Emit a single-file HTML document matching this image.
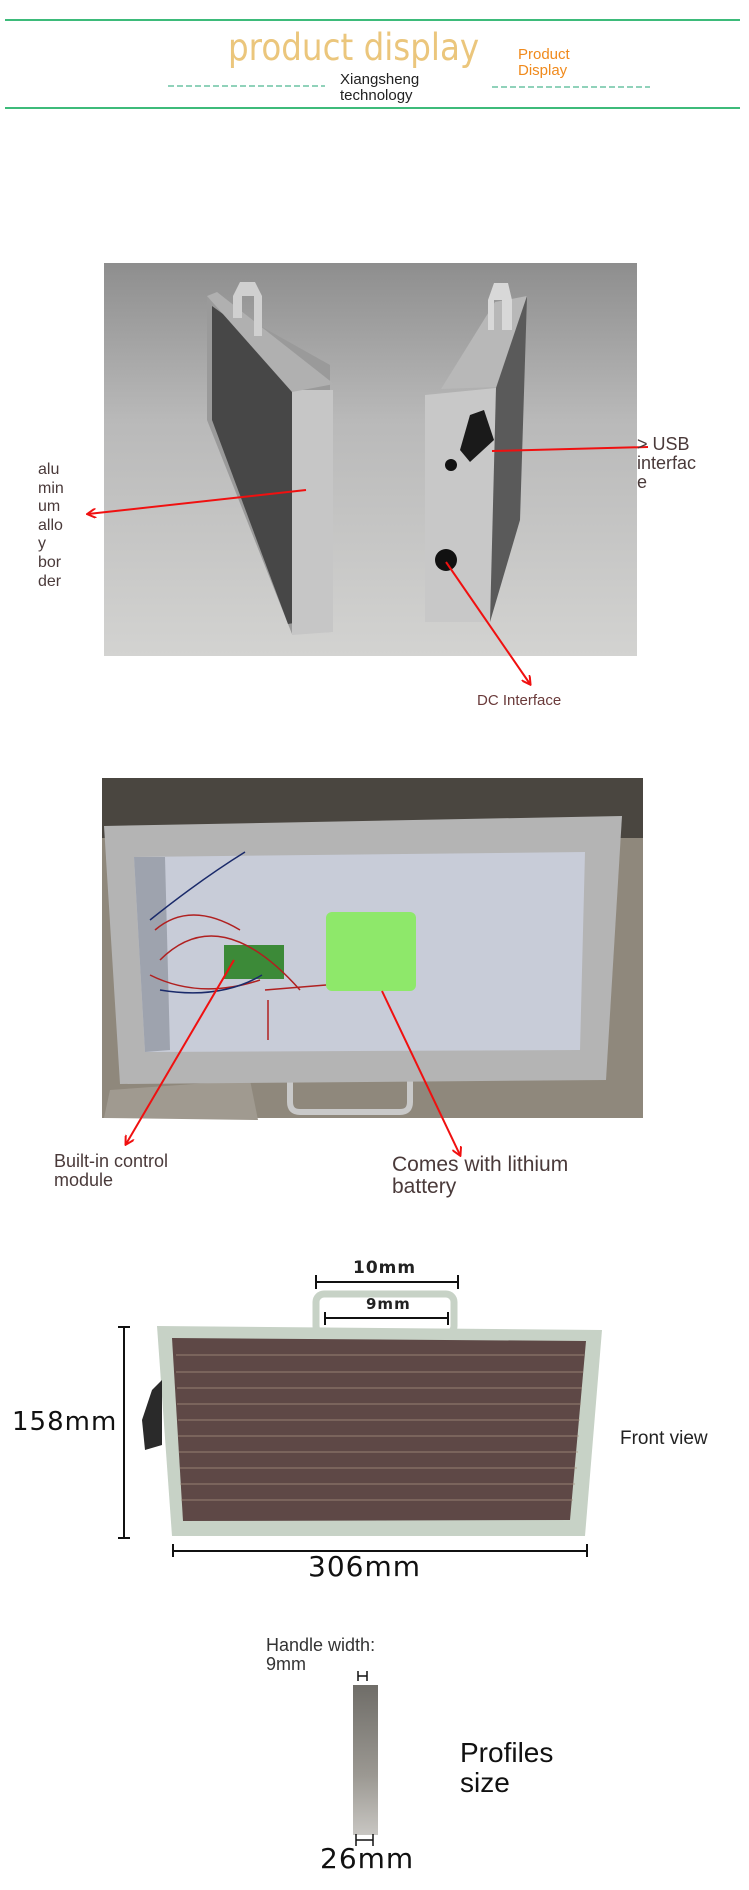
<!DOCTYPE html>
<html><head><meta charset="utf-8"><style>
html,body{margin:0;padding:0;background:#fff;}
body{width:749px;height:1890px;position:relative;overflow:hidden;font-family:"Liberation Sans",sans-serif;}
.t{position:absolute;white-space:nowrap;}
</style></head><body>
<svg width="749" height="1890" style="position:absolute;left:0;top:0" xmlns="http://www.w3.org/2000/svg">
<defs>
<linearGradient id="bg1" x1="0" y1="0" x2="0" y2="1"><stop offset="0" stop-color="#8e8e8e"/><stop offset="0.4" stop-color="#b9b9b9"/><stop offset="1" stop-color="#d3d3d1"/></linearGradient>
<linearGradient id="bar" x1="0" y1="0" x2="0" y2="1"><stop offset="0" stop-color="#6f6d68"/><stop offset="0.6" stop-color="#9b9892"/><stop offset="1" stop-color="#c8c6c2"/></linearGradient>
<marker id="ah" markerWidth="10" markerHeight="10" refX="8" refY="5" orient="auto" markerUnits="userSpaceOnUse"><path d="M0,0 L9,5 L0,10" fill="none" stroke="#f01010" stroke-width="2"/></marker>
</defs>
<line x1="5" y1="20" x2="740" y2="20" stroke="#3dbb7a" stroke-width="2"/>
<line x1="5" y1="108" x2="740" y2="108" stroke="#3dbb7a" stroke-width="2"/>
<line x1="168" y1="86" x2="325" y2="86" stroke="#6cc4a4" stroke-width="1.5" stroke-dasharray="6,3"/>
<line x1="492" y1="87" x2="650" y2="87" stroke="#6cc4a4" stroke-width="1.5" stroke-dasharray="6,3"/>

<rect x="104" y="263" width="533" height="393" fill="url(#bg1)"/>
<path d="M207,296 L330,365 L330,632 L292,634 L207,420 Z" fill="#9a9a9a"/>
<path d="M212,306 L300,370 L300,622 L288,624 L212,420 Z" fill="#474747"/>
<path d="M292,390 L333,390 L333,632 L292,635 Z" fill="#c6c6c6"/>
<path d="M207,296 L217,292 L334,384 L292,392 Z" fill="#b0b0b0"/>
<path d="M233,296 L240,282 L255,282 L262,296 L262,336 L254,336 L254,296 L242,296 L242,318 L233,318 Z" fill="#d0d0d0"/>
<path d="M441,389 L496,387 L527,296 L495,302 Z" fill="#b8b8b8"/>
<path d="M425,395 L496,388 L490,622 L425,622 Z" fill="#c8c8c8"/>
<path d="M496,388 L527,296 L520,520 L490,622 Z" fill="#5a5a5a"/>
<path d="M488,300 L494,283 L508,283 L512,300 L512,330 L502,330 L502,300 L494,300 L494,330 L488,330 Z" fill="#d8d8d8"/>
<path d="M470,415 L484,410 L494,440 L470,462 L460,450 Z" fill="#1a1a1a"/>
<circle cx="451" cy="465" r="6" fill="#111"/>
<circle cx="446" cy="560" r="11" fill="#111"/>
<line x1="306" y1="490" x2="88" y2="514" stroke="#f01010" stroke-width="2" marker-end="url(#ah)"/>
<line x1="492" y1="451" x2="648" y2="447" stroke="#f01010" stroke-width="2"/>
<line x1="446" y1="562" x2="530" y2="684" stroke="#f01010" stroke-width="2" marker-end="url(#ah)"/>

<rect x="102" y="778" width="541" height="340" fill="#8f887c"/>
<rect x="102" y="778" width="541" height="60" fill="#4a4640"/>
<path d="M110,1090 L250,1080 L258,1120 L104,1118 Z" fill="#a09a90"/>
<path d="M290,1080 L290,1102 Q290,1112 300,1112 L400,1112 Q410,1112 410,1102 L410,1080" fill="none" stroke="#c9c9c9" stroke-width="6"/>
<path d="M104,826 L622,816 L606,1080 L120,1084 Z" fill="#b4b4b4"/>
<path d="M134,857 L585,852 L580,1050 L145,1052 Z" fill="#c8ccd8"/>
<path d="M134,857 L165,857 L170,1050 L145,1052 Z" fill="#9ea3ae"/>
<rect x="224" y="945" width="60" height="34" fill="#3c8a38"/>
<rect x="326" y="912" width="90" height="79" rx="6" fill="#8ee86a"/>
<path d="M155,930 Q190,900 240,930 M150,975 Q200,1000 260,980 M160,960 Q220,900 300,990 M265,990 L326,985 M268,1000 L268,1040" fill="none" stroke="#b02020" stroke-width="1.5"/>
<path d="M150,920 Q200,880 245,852 M160,990 Q220,1000 262,975" fill="none" stroke="#1a2a6a" stroke-width="1.5"/>
<line x1="234" y1="960" x2="126" y2="1144" stroke="#f01010" stroke-width="2" marker-end="url(#ah)"/>
<line x1="382" y1="991" x2="460" y2="1155" stroke="#f01010" stroke-width="2" marker-end="url(#ah)"/>

<rect x="316" y="1294" width="138" height="40" rx="8" fill="none" stroke="#c7d2c6" stroke-width="7"/>
<path d="M157,1326 L602,1330 L585,1536 L172,1536 Z" fill="#c7d2c6"/>
<path d="M172,1338 L586,1341 L570,1520 L183,1521 Z" fill="#5e4846"/>
<g stroke="#a89480" stroke-width="0.8">
<line x1="176" y1="1355" x2="584" y2="1355"/><line x1="176" y1="1372" x2="583" y2="1372"/><line x1="177" y1="1388" x2="582" y2="1388"/><line x1="177" y1="1404" x2="581" y2="1404"/><line x1="178" y1="1420" x2="580" y2="1420"/><line x1="178" y1="1436" x2="579" y2="1436"/><line x1="179" y1="1452" x2="578" y2="1452"/><line x1="180" y1="1468" x2="577" y2="1468"/><line x1="180" y1="1484" x2="575" y2="1484"/><line x1="181" y1="1500" x2="573" y2="1500"/>
</g>
<path d="M152,1390 L162,1380 L162,1445 L145,1450 L142,1420 Z" fill="#2a2a2a"/>
<g stroke="#111" stroke-width="2">
<line x1="316" y1="1282" x2="458" y2="1282"/><line x1="316" y1="1275" x2="316" y2="1289"/><line x1="458" y1="1275" x2="458" y2="1289"/>
<line x1="325" y1="1318" x2="448" y2="1318"/><line x1="325" y1="1312" x2="325" y2="1325"/><line x1="448" y1="1312" x2="448" y2="1325"/>
<line x1="124" y1="1327" x2="124" y2="1538"/><line x1="118" y1="1327" x2="130" y2="1327"/><line x1="118" y1="1538" x2="130" y2="1538"/>
<line x1="173" y1="1551" x2="587" y2="1551"/><line x1="173" y1="1544" x2="173" y2="1557"/><line x1="587" y1="1544" x2="587" y2="1557"/>
</g>
<rect x="353" y="1685" width="25" height="150" fill="url(#bar)"/>
<g stroke="#111" stroke-width="1.5">
<line x1="358" y1="1676" x2="367" y2="1676"/><line x1="358" y1="1671" x2="358" y2="1681"/><line x1="367" y1="1671" x2="367" y2="1681"/>
<line x1="356" y1="1840" x2="373" y2="1840"/><line x1="356" y1="1834" x2="356" y2="1846"/><line x1="373" y1="1834" x2="373" y2="1846"/>
</g>
</svg>

<div class="t" style="left:228px;top:26px;font-size:37px;color:#ebc67c;font-family:'DejaVu Sans',sans-serif;transform:scaleX(0.88);transform-origin:0 0;">product display</div>
<div class="t" style="left:518px;top:47px;font-size:15px;line-height:16px;color:#f08a1c;">Product<br>Display</div>
<div class="t" style="left:340px;top:72px;font-size:15px;line-height:16px;color:#222;">Xiangsheng<br>technology</div>

<div class="t" style="left:38px;top:461px;font-size:16px;line-height:18.6px;color:#4a3a3a;">alu<br>min<br>um<br>allo<br>y<br>bor<br>der</div>
<div class="t" style="left:637px;top:435px;font-size:18px;line-height:19px;color:#4a3a3a;">&gt; USB<br>interfac<br>e</div>
<div class="t" style="left:477px;top:692px;font-size:15px;color:#6a3a3a;">DC Interface</div>

<div class="t" style="left:54px;top:1152px;font-size:18px;line-height:19px;color:#4a3a3a;">Built-in control<br>module</div>
<div class="t" style="left:392px;top:1154px;font-size:21px;line-height:22px;color:#4a3a3a;">Comes with lithium<br>battery</div>

<div class="t" style="left:353px;top:1258px;font-size:17px;font-weight:bold;color:#222;font-family:'DejaVu Sans',sans-serif;letter-spacing:1px;">10mm</div>
<div class="t" style="left:366px;top:1295px;font-size:15px;font-weight:bold;color:#222;font-family:'DejaVu Sans',sans-serif;letter-spacing:1px;">9mm</div>
<div class="t" style="left:12px;top:1407px;font-size:26px;color:#111;font-family:'DejaVu Sans',sans-serif;letter-spacing:1px;">158mm</div>
<div class="t" style="left:308px;top:1550px;font-size:28px;color:#111;font-family:'DejaVu Sans',sans-serif;letter-spacing:1px;">306mm</div>
<div class="t" style="left:620px;top:1428px;font-size:19px;color:#222;">Front view</div>

<div class="t" style="left:266px;top:1636px;font-size:18px;line-height:19px;color:#333;">Handle width:<br>9mm</div>
<div class="t" style="left:320px;top:1842px;font-size:28px;color:#111;font-family:'DejaVu Sans',sans-serif;letter-spacing:1px;">26mm</div>
<div class="t" style="left:460px;top:1738px;font-size:28px;line-height:30px;color:#111;">Profiles<br>size</div>
</body></html>
